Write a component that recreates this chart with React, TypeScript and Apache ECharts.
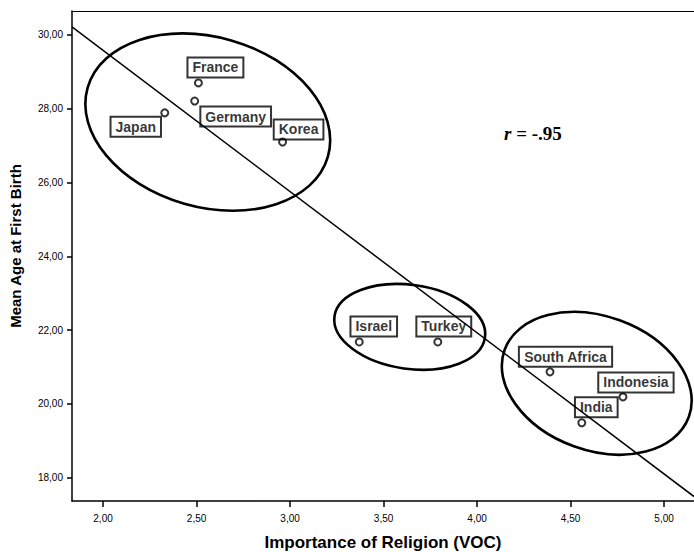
import React, { useEffect, useRef } from 'react';
import * as echarts from 'echarts';

// ---- data ----
const countries = ['France', 'Germany', 'Japan', 'Korea', 'Israel', 'Turkey', 'South Africa', 'Indonesia', 'India'];
const religion = [2.51, 2.49, 2.33, 2.96, 3.37, 3.79, 4.39, 4.78, 4.56];
const ageFirstBirth = [28.7, 28.21, 27.89, 27.1, 21.68, 21.68, 20.87, 20.19, 19.49];
const xTicks = [2, 2.5, 3, 3.5, 4, 4.5, 5];
const yTicks = [18, 20, 22, 24, 26, 28, 30];
const groupCenterX = [2.56, 3.64, 4.64];
const groupCenterY = [27.64, 22.09, 20.56];
const rText = '-.95';

// ---- styling (not data) ----
const labelOffsets = [
  [17, -15.5], [41, 15.5], [-29, 14], [16, -12.5],
  [14.5, -15.5], [6, -15.5], [15.5, -15], [13, -14.5], [14.5, -15.5],
];
const ellipseShapes = [
  { rx: 125, ry: 85, angle: 16 },
  { rx: 76, ry: 42, angle: 8 },
  { rx: 98, ry: 67, angle: 20 },
];
const X_MIN = 1.834, X_MAX = 5.16, Y_MIN = 17.37, Y_MAX = 30.65;
const SANS = '"Liberation Sans", Arial, sans-serif';
const SERIF = '"Liberation Serif", "Times New Roman", serif';

function fmt(v: number) {
  return v.toFixed(2).replace('.', ',');
}

export default function App() {
  const ref = useRef<HTMLDivElement>(null);
  useEffect(() => {
    const chart = echarts.init(ref.current!, null, { renderer: 'svg' });

    // least squares fit line from the data
    const n = religion.length;
    const mx = religion.reduce((a, b) => a + b, 0) / n;
    const my = ageFirstBirth.reduce((a, b) => a + b, 0) / n;
    let sxy = 0, sxx = 0;
    for (let i = 0; i < n; i++) {
      sxy += (religion[i] - mx) * (ageFirstBirth[i] - my);
      sxx += (religion[i] - mx) * (religion[i] - mx);
    }
    const slope = sxy / sxx;
    const icpt = my - slope * mx;
    const fitLine = [[X_MIN, icpt + slope * X_MIN], [X_MAX, icpt + slope * X_MAX]];

    const axisLineStyle = { color: '#000', width: 1.5 };
    const option: any = {
      animation: false,
      backgroundColor: '#fff',
      grid: { left: 72, right: 0, top: 11, bottom: 51, containLabel: false, outerBoundsMode: 'none' },
      xAxis: [
        {
          type: 'value', min: X_MIN, max: X_MAX,
          name: 'Importance of Religion (VOC)', nameLocation: 'middle', nameGap: 33,
          nameTextStyle: { fontFamily: SANS, fontWeight: 'bold', fontSize: 17, color: '#000' },
          axisLine: { show: true, onZero: false, lineStyle: axisLineStyle },
          axisTick: { show: true, customValues: xTicks, length: 6, lineStyle: axisLineStyle },
          axisLabel: { customValues: xTicks, formatter: fmt, margin: 12, fontSize: 10, color: '#000', fontFamily: SANS },
          splitLine: { show: false },
        },
        {
          type: 'value', position: 'top', min: X_MIN, max: X_MAX,
          axisLine: { show: true, onZero: false, lineStyle: { color: '#000', width: 1 } },
          axisTick: { show: false }, axisLabel: { show: false }, splitLine: { show: false },
        },
      ],
      yAxis: {
        type: 'value', min: Y_MIN, max: Y_MAX,
        name: 'Mean Age at First Birth', nameLocation: 'middle', nameGap: 49,
        nameTextStyle: { fontFamily: SANS, fontWeight: 'bold', fontSize: 15, color: '#000', padding: [0, 0, 0, 20] },
        axisLine: { show: true, onZero: false, lineStyle: axisLineStyle },
        axisTick: { show: true, customValues: yTicks, length: 5, lineStyle: axisLineStyle },
        axisLabel: { customValues: yTicks, formatter: fmt, margin: 9, fontSize: 10, color: '#000', fontFamily: SANS },
        splitLine: { show: false },
      },
      series: [
        {
          type: 'custom',
          silent: true,
          clip: false,
          z: 2,
          data: groupCenterX.map((x, i) => [x, groupCenterY[i]]),
          renderItem: (params: any, api: any) => {
            const p = api.coord([api.value(0), api.value(1)]);
            const s = ellipseShapes[params.dataIndex];
            return {
              type: 'ellipse',
              x: p[0], y: p[1],
              rotation: -(s.angle * Math.PI) / 180,
              shape: { cx: 0, cy: 0, rx: s.rx, ry: s.ry },
              style: { fill: 'none', stroke: '#000', lineWidth: 2.6 },
            };
          },
        },
        {
          type: 'line', silent: true, z: 3,
          data: fitLine, symbol: 'none',
          lineStyle: { color: '#000', width: 1.5 },
        },
        {
          type: 'scatter', z: 4,
          symbol: 'emptyCircle', symbolSize: 7,
          itemStyle: { color: '#000', borderWidth: 1.5 },
          data: countries.map((c, i) => ({
            name: c,
            value: [religion[i], ageFirstBirth[i]],
            label: { offset: labelOffsets[i] },
          })),
          label: {
            show: true, position: 'inside', formatter: '{b}',
            fontFamily: SANS, fontWeight: 'bold', fontSize: 14, lineHeight: 16, color: '#000',
            borderColor: '#000', borderWidth: 1, padding: [2, 5, 2, 5], backgroundColor: 'transparent',
          },
        },
      ],
      graphic: [
        {
          type: 'text', x: 504, y: 133,
          style: {
            text: '{i|r} = ' + rText,
            fontFamily: SERIF, fontWeight: 'bold', fontSize: 19,
            fill: '#000', verticalAlign: 'middle',
            rich: { i: { fontStyle: 'italic', fontWeight: 'bold', fontSize: 19, fontFamily: SERIF } },
          },
        },
      ],
    };
    chart.setOption(option);
    return () => chart.dispose();
  }, []);
  return (
    <div
      ref={ref}
      style={{ position: 'fixed', left: 0, top: 0, width: 694, height: 552, background: '#fff' }}
    />
  );
}
